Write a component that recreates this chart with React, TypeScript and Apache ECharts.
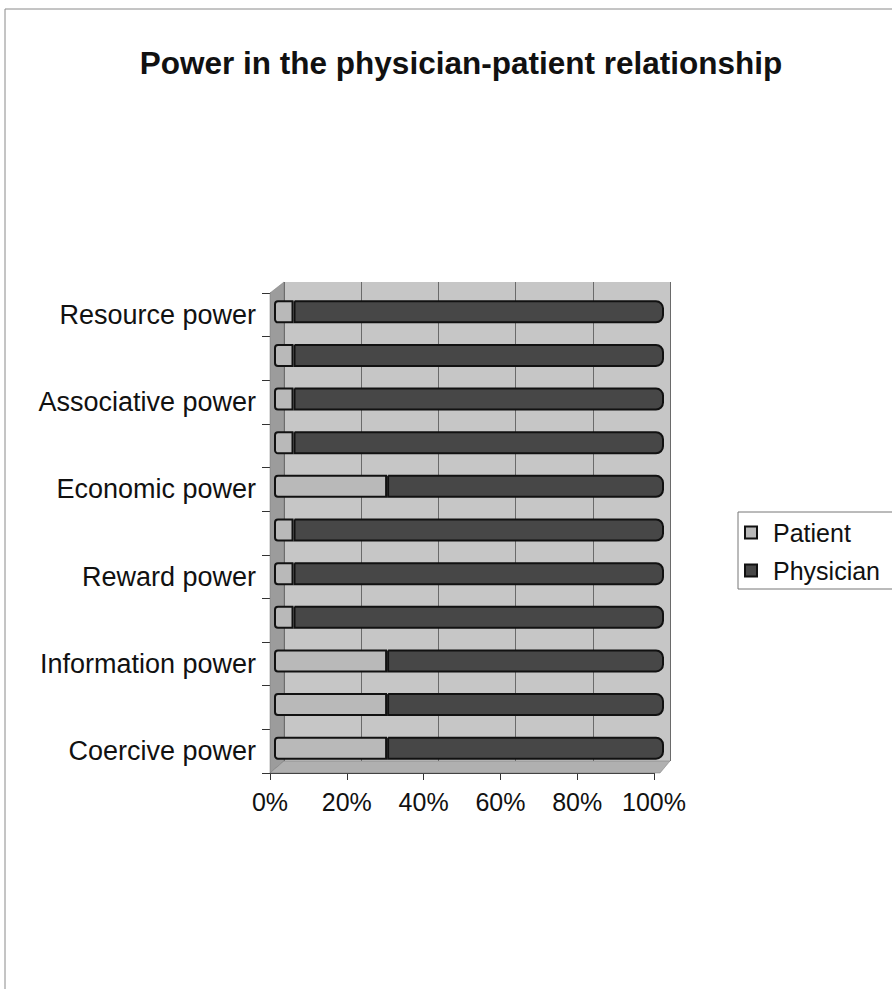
import React, { useEffect, useRef } from "react";
import * as echarts from "echarts";

// Categories listed bottom to top (ECharts category order on a y axis)
const categories = [
  "Coercive power",
  "Legitimate power",
  "Information power",
  "Expert power",
  "Reward power",
  "Referent power",
  "Economic power",
  "Connection power",
  "Associative power",
  "Personal power",
  "Resource power",
];
const patient = [29, 29, 29, 5, 5, 5, 29, 5, 5, 5, 5];
const physician = [71, 71, 71, 95, 95, 95, 71, 95, 95, 95, 95];
const percentTicks = [0, 20, 40, 60, 80, 100];

const FONT = "'Liberation Sans', Arial, sans-serif";

export default function App() {
  const ref = useRef<HTMLDivElement>(null);

  useEffect(() => {
    if (!ref.current) return;
    const chart = echarts.init(ref.current, undefined, { renderer: "svg" });

    const option: echarts.EChartsOption = {
      animation: false,
      backgroundColor: "#ffffff",
      title: {
        text: "Power in the physician-patient relationship",
        left: 456,
        top: 42,
        textAlign: "center",
        textStyle: { fontFamily: FONT, fontSize: 31.5, fontWeight: "bold", color: "#111" },
      },
      legend: {
        orient: "vertical",
        left: 738,
        top: 512,
        padding: [8, 30, 6, 6],
        itemGap: 13,
        itemWidth: 12,
        itemHeight: 12,
        icon: "rect",
        borderColor: "#777",
        borderWidth: 1,
        textStyle: { fontFamily: FONT, fontSize: 25, color: "#111", padding: [0, 0, 0, 11] },
        data: ["Patient", "Physician"],
      },
      graphic: [
        // page frame
        {
          type: "polyline",
          shape: { points: [[5, 989], [5, 9], [892, 9]] },
          style: { stroke: "#8a8a8a", lineWidth: 1, fill: "none" },
          silent: true,
        },
        // left side wall of the 3D plot box
        {
          type: "polygon",
          shape: { points: [[270, 293], [284, 282], [284, 761], [270, 773]] },
          style: { fill: "#9c9c9c", stroke: "#777", lineWidth: 0.5 },
          z: 1,
          silent: true,
        },
        // floor of the 3D plot box
        {
          type: "polygon",
          shape: { points: [[270, 773], [660, 773], [670, 761], [284, 761]] },
          style: { fill: "#b0b0b0", stroke: "#777", lineWidth: 0.5 },
          z: 1,
          silent: true,
        },
      ],
      grid: [
        // back wall
        { left: 284, top: 282, width: 386, height: 479, show: true, backgroundColor: "#c6c6c6", borderWidth: 0 },
        // bars
        { left: 274, top: 290, width: 390, height: 480 },
        // front axes
        { left: 270, top: 293, width: 384, height: 480 },
      ],
      xAxis: [
        {
          gridIndex: 0,
          type: "value",
          min: 0,
          max: 100,
          interval: 20,
          axisLabel: { show: false },
          axisLine: { show: false },
          axisTick: { show: false },
          splitLine: { show: true, lineStyle: { color: "#6a6a6a", width: 1 } },
        },
        {
          gridIndex: 1,
          type: "value",
          min: 0,
          max: 100,
          show: false,
        },
        {
          gridIndex: 2,
          type: "value",
          min: percentTicks[0],
          max: percentTicks[percentTicks.length - 1],
          interval: 20,
          splitLine: { show: false },
          axisLine: { show: true, lineStyle: { color: "#333", width: 1 } },
          axisTick: { show: true, length: 7, lineStyle: { color: "#333" } },
          axisLabel: {
            formatter: "{value}%",
            margin: 16,
            fontFamily: FONT,
            fontSize: 25,
            color: "#111",
          },
        },
      ],
      yAxis: [
        { gridIndex: 0, type: "category", data: categories, show: false },
        { gridIndex: 1, type: "category", data: categories, show: false },
        {
          gridIndex: 2,
          type: "category",
          data: categories,
          axisLine: { show: true, lineStyle: { color: "#555", width: 1 } },
          axisTick: { show: true, interval: 0, length: 8, lineStyle: { color: "#333" } },
          axisLabel: {
            interval: 1,
            margin: 14,
            fontFamily: FONT,
            fontSize: 27,
            color: "#111",
          },
          splitLine: { show: false },
        },
      ],
      series: [
        {
          name: "Patient",
          type: "bar",
          stack: "share",
          xAxisIndex: 1,
          yAxisIndex: 1,
          barWidth: 23,
          data: patient,
          itemStyle: { color: "#b9b9b9", borderColor: "#111", borderWidth: 2, borderRadius: [3, 0, 0, 3] },
          z: 3,
        },
        {
          name: "Physician",
          type: "bar",
          stack: "share",
          xAxisIndex: 1,
          yAxisIndex: 1,
          barWidth: 23,
          data: physician,
          itemStyle: { color: "#474747", borderColor: "#111", borderWidth: 2, borderRadius: [0, 7, 7, 0] },
          z: 3,
        },
      ],
    };

    chart.setOption(option);
    return () => chart.dispose();
  }, []);

  return (
    <div
      ref={ref}
      style={{ position: "fixed", left: 0, top: 0, width: 892, height: 989, background: "#fff" }}
    />
  );
}
